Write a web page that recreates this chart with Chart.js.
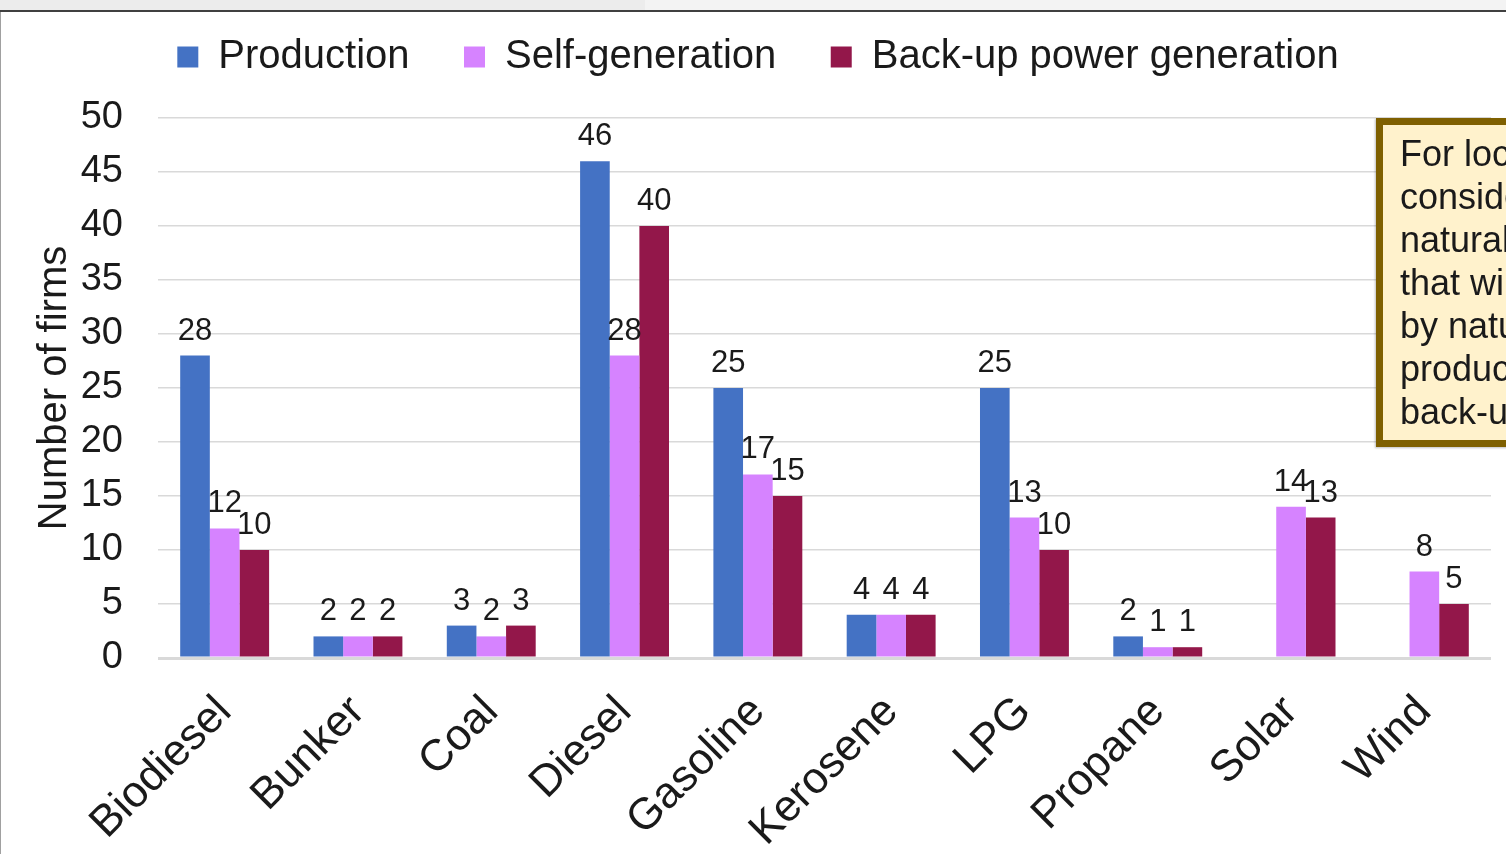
<!DOCTYPE html>
<html>
<head>
<meta charset="utf-8">
<script src="https://cdn.jsdelivr.net/npm/chart.js@4.4.1/dist/chart.umd.min.js"></script>
<style>
  html, body { margin: 0; padding: 0; width: 1506px; height: 854px; overflow: hidden; background: #ffffff; }
  #topStrip { position: absolute; left: 0; top: 0; width: 1506px; height: 10px; background: #f3f3f3; }
  #topStripL { position: absolute; left: 0; top: 0; width: 645px; height: 10px; background: #ececec; }
  #frameTop { position: absolute; left: 0; top: 10px; width: 1506px; height: 2px; background: #404040; }
  #frameLeft { position: absolute; left: 0; top: 12px; width: 1px; height: 842px; background: #a0a0a0; }
  #wrap { position: absolute; left: 1px; top: 12px; width: 1505px; height: 842px; }
  #note {
    position: absolute; left: 1376px; top: 118px; width: 330px; height: 329px;
    box-sizing: border-box; border: 7px solid #7F6000; background: #FFF2CC;
    padding: 7px 0 0 17px; font-family: "Liberation Sans", Arial, sans-serif;
    font-size: 36px; line-height: 43px; color: #1a1a1a; white-space: nowrap;
    box-shadow: -1px 1px 2px rgba(0,0,0,0.25);
  }
</style>
</head>
<body>
<div id="topStrip"></div>
<div id="topStripL"></div>
<div id="frameTop"></div>
<div id="frameLeft"></div>
<div id="wrap"><canvas id="c"></canvas></div>
<div id="note">For local<br>consideration,<br>natural gas<br>that will<br>by natural<br>production<br>back-up</div>
<script>
const categories = ['Biodiesel', 'Bunker', 'Coal', 'Diesel', 'Gasoline', 'Kerosene', 'LPG', 'Propane', 'Solar', 'Wind'];
const production = [28, 2, 3, 46, 25, 4, 25, 2, null, null];
const selfGeneration = [12, 2, 2, 28, 17, 4, 13, 1, 14, 8];
const backupPower = [10, 2, 3, 40, 15, 4, 10, 1, 13, 5];
const seriesNames = ['Production', 'Self-generation', 'Back-up power generation'];
const yTickValues = [0, 5, 10, 15, 20, 25, 30, 35, 40, 45, 50];

const FONT = '"Liberation Sans", Arial, sans-serif';
const TEXT = '#1a1a1a';

const valueLabels = {
  id: 'valueLabels',
  afterDatasetsDraw(chart) {
    const ctx = chart.ctx;
    ctx.save();
    ctx.font = '31px ' + FONT;
    ctx.fillStyle = TEXT;
    ctx.textAlign = 'center';
    ctx.textBaseline = 'alphabetic';
    chart.data.datasets.forEach((ds, i) => {
      const meta = chart.getDatasetMeta(i);
      meta.data.forEach((bar, j) => {
        const v = ds.data[j];
        if (v === null || v === undefined) return;
        ctx.fillText(String(v), bar.x, bar.y - 16);
      });
    });
    ctx.restore();
  }
};

const chart = new Chart(document.getElementById('c'), {
  type: 'bar',
  data: {
    labels: categories,
    datasets: [
      { label: seriesNames[0], data: production, backgroundColor: '#4472C4' },
      { label: seriesNames[1], data: selfGeneration, backgroundColor: '#D683FF' },
      { label: seriesNames[2], data: backupPower, backgroundColor: '#93174A' }
    ]
  },
  options: {
    responsive: true,
    maintainAspectRatio: false,
    animation: false,
    datasets: { bar: { categoryPercentage: 0.667, barPercentage: 1.0, borderWidth: 0 } },
    layout: { padding: { top: 15, right: 15, left: 0, bottom: 0 } },
    plugins: {
      tooltip: { enabled: false },
      legend: {
        position: 'top',
        labels: {
          font: { family: FONT, size: 40 },
          color: TEXT,
          boxWidth: 21,
          boxHeight: 21,
          padding: 10,
          generateLabels(ch) {
            const items = Chart.defaults.plugins.legend.labels.generateLabels(ch);
            items.forEach((it, i) => { if (i < items.length - 1) it.text = it.text + '    '; });
            return items;
          }
        }
      }
    },
    scales: {
      x: {
        grid: { display: false },
        border: { display: false },
        ticks: {
          font: { family: FONT, size: 44 },
          color: TEXT,
          minRotation: 45,
          maxRotation: 45,
          autoSkip: false,
          padding: 20
        },
        afterFit(scale) { scale.height = 196; }
      },
      y: {
        min: 0,
        max: 50,
        afterBuildTicks(scale) { scale.ticks = yTickValues.map(v => ({ value: v })); },
        grid: {
          color: '#d9d9d9',
          lineWidth: (c) => (c.tick && c.tick.value === 0 ? 3 : 1.5),
          drawTicks: false
        },
        border: { display: false },
        ticks: {
          font: { family: FONT, size: 38 },
          color: TEXT,
          padding: 35
        },
        title: {
          display: true,
          text: 'Number of firms',
          font: { family: FONT, size: 40 },
          color: TEXT,
          padding: { top: 30, bottom: 0 }
        },
        afterFit(scale) { scale.width = 157; }
      }
    }
  },
  plugins: [valueLabels]
});

const lg = chart.legend;
const origFit = lg.fit;
lg.fit = function () { origFit.apply(this, arguments); this.height = 91; };
const origDraw = lg.draw;
lg.draw = function () {
  this.left += 12; this.right += 12;
  origDraw.apply(this, arguments);
  this.left -= 12; this.right -= 12;
};
chart.update('none');
</script>
</body>
</html>
